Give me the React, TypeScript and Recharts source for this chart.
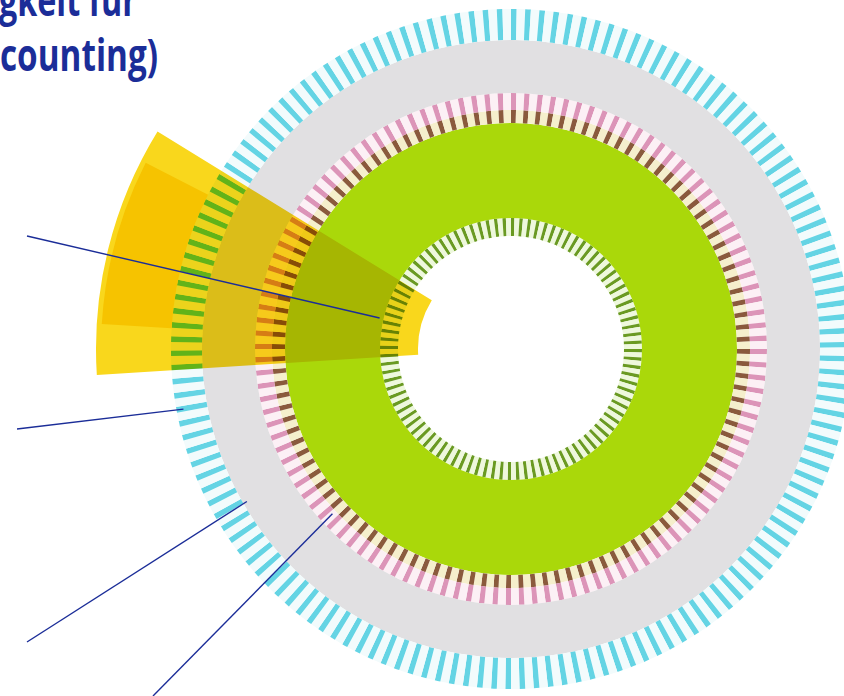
import React from 'react'
import { PieChart, Pie, Cell } from 'recharts'

// ring bands, innermost first
const RING_NAMES = ['Innenring', 'Kern', 'Rosa Ring', 'Grauer Ring', 'Außenring']
const CORE_VALUE = [1]
const GRAY_VALUE = [1]

// tick counts per striped ring
const INNER_TICKS = 96
const PINK_TICKS = 120
const CYAN_TICKS = 150

// the highlighted segment, in degrees of the circle
const SEGMENT_NAMES = ['Segment', 'Kernsegment']
const SEGMENT_SPAN = [35.2, 23.5]

const TITLE_LINES = ['gkeit für', 'counting)']

const W = 844
const H = 696
const CX = 511
const CY = 349
const BLUE = '#1b2d98'

// leader lines: ring angle/radius they point to, and where they leave the picture
const LEADERS = [
  { angle: 166.7, radius: 135, x: 27, y: 236 },
  { angle: 190.4, radius: 333, x: 17, y: 429 },
  { angle: 210, radius: 305, x: 27, y: 642 },
  { angle: 222.7, radius: 243, x: 153, y: 696 },
]

function ticks(count: number) {
  const out: { name: string; value: number }[] = []
  for (let i = 0; i < count; i++) {
    out.push({ name: `tick-${i}`, value: 0.4 })
    out.push({ name: `gap-${i}`, value: 0.6 })
  }
  return out
}

function TickRing({ count, inner, outer, tick, gap }: { count: number; inner: number; outer: number; tick: string; gap: string }) {
  const data = ticks(count)
  return (
    <Pie
      data={data}
      dataKey="value"
      cx={CX}
      cy={CY}
      innerRadius={inner}
      outerRadius={outer}
      startAngle={90}
      endAngle={-270}
      stroke="none"
      isAnimationActive={false}
    >
      {data.map((d, i) => (
        <Cell key={d.name} fill={i % 2 === 0 ? tick : gap} />
      ))}
    </Pie>
  )
}

function polar(angle: number, r: number) {
  const rad = (angle * Math.PI) / 180
  return { x: CX + r * Math.cos(rad), y: CY - r * Math.sin(rad) }
}

export default function App() {
  const coreData = CORE_VALUE.map((v) => ({ name: RING_NAMES[1], value: v }))
  const grayData = GRAY_VALUE.map((v) => ({ name: RING_NAMES[3], value: v }))
  const segStart = 148.4
  const outerSeg = [{ name: SEGMENT_NAMES[0], value: SEGMENT_SPAN[0] }]
  const innerSeg = [{ name: SEGMENT_NAMES[1], value: SEGMENT_SPAN[1] }]

  return (
    <div style={{ position: 'fixed', left: 0, top: 0, width: W, height: H, overflow: 'hidden', background: '#fff' }}>
      <div style={{ filter: 'blur(0.7px)' }}>
        <PieChart width={W} height={H} margin={{ top: 0, right: 0, bottom: 0, left: 0 }}>
          <TickRing count={INNER_TICKS} inner={113} outer={131} tick="#6a9a22" gap="#eef8dc" />
          <Pie data={coreData} dataKey="value" cx={CX} cy={CY} innerRadius={131} outerRadius={226} stroke="none" isAnimationActive={false}>
            <Cell fill="#aad80a" />
          </Pie>
          <TickRing count={PINK_TICKS} inner={226} outer={239} tick="#8a5a3c" gap="#f5efcc" />
          <TickRing count={PINK_TICKS} inner={239} outer={256} tick="#dc94b8" gap="#fcf0f5" />
          <Pie data={grayData} dataKey="value" cx={CX} cy={CY} innerRadius={256} outerRadius={309} stroke="none" isAnimationActive={false}>
            <Cell fill="#e1e0e2" />
          </Pie>
          <TickRing count={CYAN_TICKS} inner={309} outer={340} tick="#64d4e4" gap="#f2fbfc" />

          {/* yellow segment laid over the rings */}
          <Pie
            data={outerSeg}
            dataKey="value"
            cx={CX}
            cy={CY}
            innerRadius={93}
            outerRadius={415}
            startAngle={segStart}
            endAngle={segStart + SEGMENT_SPAN[0]}
            stroke="none"
            isAnimationActive={false}
          >
            <Cell fill="#f9d71c" style={{ mixBlendMode: 'multiply' }} />
          </Pie>
          <Pie
            data={innerSeg}
            dataKey="value"
            cx={CX}
            cy={CY}
            innerRadius={340}
            outerRadius={410}
            startAngle={153}
            endAngle={153 + SEGMENT_SPAN[1]}
            stroke="none"
            isAnimationActive={false}
          >
            <Cell fill="#f6c300" />
          </Pie>
        </PieChart>
      </div>

      <svg width={W} height={H} style={{ position: 'absolute', left: 0, top: 0, pointerEvents: 'none' }}>
        {LEADERS.map((l, i) => {
          const p = polar(l.angle, l.radius)
          return <line key={i} x1={l.x} y1={l.y} x2={p.x} y2={p.y} stroke={BLUE} strokeWidth={1.4} />
        })}
        <text x={-1} y={16} fontFamily="'Open Sans', sans-serif" fontWeight={700} fontSize={45} fill={BLUE} textLength={138} lengthAdjust="spacingAndGlyphs">
          {TITLE_LINES[0]}
        </text>
        <text x={0} y={71} fontFamily="'Open Sans', sans-serif" fontWeight={700} fontSize={45} fill={BLUE} textLength={158} lengthAdjust="spacingAndGlyphs">
          {TITLE_LINES[1]}
        </text>
      </svg>
    </div>
  )
}
